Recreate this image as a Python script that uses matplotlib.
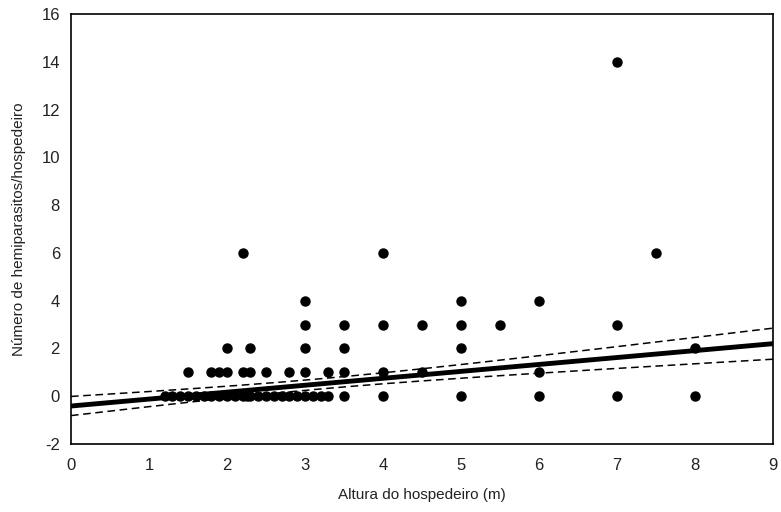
import numpy as np
import matplotlib
matplotlib.use("Agg")
from matplotlib import pyplot as plt

plt.rcParams['font.family'] = ['Liberation Sans', 'DejaVu Sans']
plt.rcParams['axes.unicode_minus'] = False

# altura do hospedeiro (m) e numero de hemiparasitos por hospedeiro
altura = [1.2, 1.3, 1.4, 1.5, 1.6, 1.7, 1.8, 1.9, 2.0, 2.1, 2.2, 2.25, 2.3, 2.4,
          2.5, 2.6, 2.7, 2.8, 2.9, 3.0, 3.1, 3.2, 3.3, 3.5, 4.0, 5.0, 6.0, 7.0, 8.0,
          1.5, 1.8, 1.9, 2.0, 2.2, 2.3, 2.5, 2.8, 3.0, 3.3, 3.5, 4.0, 4.5, 6.0,
          2.0, 2.3, 3.0, 3.5, 5.0, 8.0,
          3.0, 3.5, 4.0, 4.5, 5.0, 5.5, 7.0,
          3.0, 5.0, 6.0,
          2.2, 4.0, 7.5,
          7.0]
hemiparasitos = [0] * 29 + [1] * 14 + [2] * 6 + [3] * 7 + [4] * 3 + [6] * 3 + [14]

# reta de regressao e faixa de confianca
intercepto = -0.41
inclinacao = 0.29
x_medio = 3.2
faixa_a = 0.0458
faixa_b = 0.0112

xs = np.linspace(0, 9, 200)
ys = intercepto + inclinacao * xs
h = np.sqrt(faixa_a + faixa_b * (xs - x_medio) ** 2)

fig = plt.figure(figsize=(7.81, 5.12), dpi=100)
ax = fig.add_axes([0.0909, 0.1328, 0.8989, 0.8399])

ax.plot(altura, hemiparasitos, 'o', color='black', markersize=6.5, zorder=3)
ax.plot(xs, ys, color='black', linewidth=3.5, zorder=4)
ax.plot(xs, ys + h, color='black', linewidth=1.1, dashes=(5, 3), zorder=4)
ax.plot(xs, ys - h, color='black', linewidth=1.1, dashes=(5, 3), zorder=4)

ax.set_xlim(0, 9)
ax.set_ylim(-2, 16)
ax.set_xticks(range(0, 10))
ax.set_yticks(range(-2, 17, 2))
ax.tick_params(length=0, labelsize=12, colors='#222222')
ax.tick_params(axis='x', pad=10)
ax.tick_params(axis='y', pad=8)
for s in ax.spines.values():
    s.set_linewidth(1.2)

ax.set_xlabel("Altura do hospedeiro (m)", fontsize=11, color='#222222', labelpad=11)
ax.set_ylabel("Número de hemiparasitos/hospedeiro", fontsize=11, color='#222222', labelpad=11)

fig.savefig("out.png", dpi=100)
